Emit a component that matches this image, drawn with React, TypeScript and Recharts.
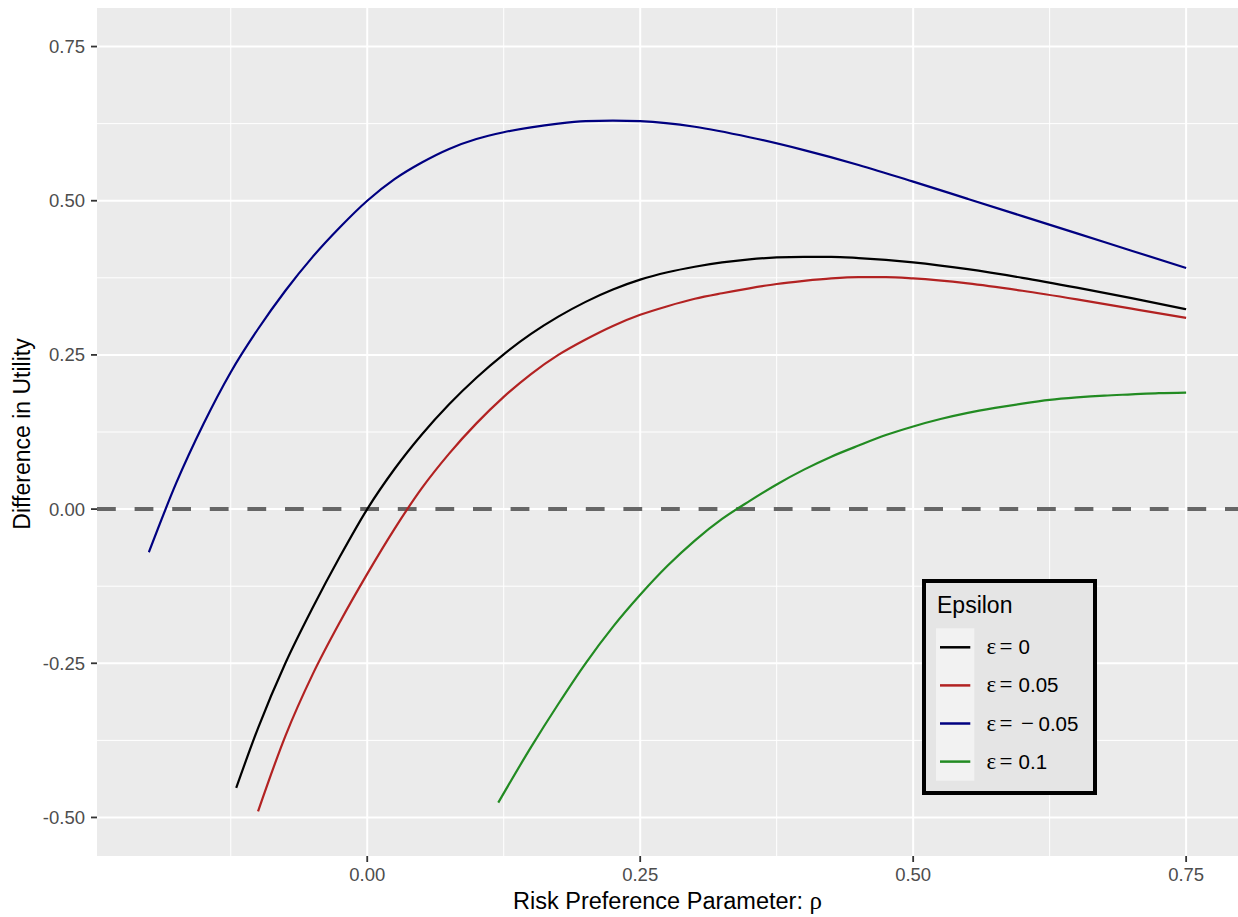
import React from "react";
import {
  LineChart,
  Line,
  XAxis,
  YAxis,
  CartesianGrid,
  ReferenceLine,
} from "recharts";

// tick positions
const rhoTicks = [0, 0.25, 0.5, 0.75];
const rhoMinor = [-0.125, 0.125, 0.375, 0.625];
const utilTicks = [-0.5, -0.25, 0, 0.25, 0.5, 0.75];
const utilMinor = [-0.375, -0.125, 0.125, 0.375, 0.625];

// epsilon = 0 (black)
const rho0 = [-0.12, -0.1, -0.075, -0.05, -0.025, 0, 0.025, 0.05, 0.075, 0.1, 0.125, 0.15, 0.175, 0.2, 0.225, 0.25, 0.275, 0.3, 0.325, 0.35, 0.375, 0.4, 0.425, 0.45, 0.5, 0.55, 0.6, 0.65, 0.7, 0.75];
const util0 = [-0.452, -0.355, -0.25, -0.16, -0.077, 0, 0.065, 0.121, 0.17, 0.213, 0.251, 0.284, 0.312, 0.336, 0.356, 0.372, 0.384, 0.393, 0.4, 0.405, 0.408, 0.409, 0.409, 0.407, 0.4, 0.389, 0.375, 0.359, 0.342, 0.324];

// epsilon = 0.05 (red)
const rho05 = [-0.1, -0.075, -0.05, -0.025, 0, 0.025, 0.05, 0.075, 0.1, 0.125, 0.15, 0.175, 0.2, 0.225, 0.25, 0.275, 0.3, 0.325, 0.35, 0.375, 0.4, 0.425, 0.45, 0.475, 0.5, 0.55, 0.6, 0.65, 0.7, 0.75];
const util05 = [-0.49, -0.368, -0.268, -0.183, -0.105, -0.032, 0.034, 0.09, 0.139, 0.182, 0.219, 0.25, 0.275, 0.297, 0.315, 0.329, 0.341, 0.35, 0.358, 0.365, 0.37, 0.374, 0.376, 0.376, 0.374, 0.366, 0.354, 0.34, 0.325, 0.31];

// epsilon = -0.05 (blue)
const rhoM05 = [-0.2, -0.175, -0.15, -0.125, -0.1, -0.075, -0.05, -0.025, 0, 0.025, 0.05, 0.075, 0.1, 0.125, 0.15, 0.175, 0.2, 0.225, 0.25, 0.3, 0.35, 0.4, 0.45, 0.5, 0.55, 0.6, 0.65, 0.7, 0.75];
const utilM05 = [-0.07, 0.042, 0.138, 0.222, 0.292, 0.354, 0.409, 0.457, 0.5, 0.535, 0.562, 0.584, 0.6, 0.611, 0.619, 0.625, 0.629, 0.63, 0.629, 0.62, 0.603, 0.582, 0.558, 0.531, 0.503, 0.475, 0.447, 0.419, 0.391];

// epsilon = 0.1 (green)
const rho1 = [0.12, 0.15, 0.175, 0.2, 0.225, 0.25, 0.275, 0.3, 0.325, 0.35, 0.375, 0.4, 0.425, 0.45, 0.475, 0.5, 0.525, 0.55, 0.575, 0.6, 0.625, 0.65, 0.675, 0.7, 0.725, 0.75];
const util1 = [-0.476, -0.386, -0.316, -0.25, -0.191, -0.139, -0.092, -0.051, -0.016, 0.013, 0.04, 0.064, 0.085, 0.103, 0.12, 0.134, 0.146, 0.156, 0.164, 0.171, 0.177, 0.181, 0.184, 0.186, 0.188, 0.189];

const zip = (xs: number[], ys: number[]) => xs.map((rho, i) => ({ rho, u: ys[i] }));

const series = [
  { key: "0", label: "0", color: "#000000", data: zip(rho0, util0) },
  { key: "0.05", label: "0.05", color: "#B22222", data: zip(rho05, util05) },
  { key: "-0.05", label: "-0.05", color: "#000080", data: zip(rhoM05, utilM05) },
  { key: "0.1", label: "0.1", color: "#228B22", data: zip(rho1, util1) },
];

const SANS = "'Liberation Sans', Arial, Helvetica, sans-serif";
const SERIF = "'Liberation Serif', 'DejaVu Serif', serif";

// legend box drawn on top of the plot panel (ggplot style, inside the panel)
function EpsLegend() {
  return (
    <svg
      width={175}
      height={216}
      style={{ position: "absolute", left: 922, top: 579, display: "block" }}
    >
      <rect x={2} y={2} width={171} height={212} fill="#E5E5E5" stroke="#000" strokeWidth={4} />
      <text x={15} y={34} fontSize={23} fontFamily={SANS} fill="#000">
        Epsilon
      </text>
      <rect x={14} y={49.3} width={38.3} height={152.4} fill="#F2F2F2" />
      {series.map((s, i) => {
        const cy = 68.3 + i * 38.1;
        const neg = s.label.startsWith("-");
        return (
          <g key={s.key}>
            <line x1={18} x2={48.3} y1={cy} y2={cy} stroke={s.color} strokeWidth={2.5} />
            <text y={cy + 7} fontSize={20.5} fill="#000">
              <tspan x={64.6} fontFamily={SERIF} fontSize={23}>ε</tspan>
              <tspan x={77.5} fontFamily={SERIF} fontSize={23}>=</tspan>
              {neg ? (
                <>
                  <tspan x={99} fontFamily={SERIF} fontSize={23}>−</tspan>
                  <tspan x={116.5} fontFamily={SANS}>{s.label.slice(1)}</tspan>
                </>
              ) : (
                <tspan x={96.6} fontFamily={SANS}>{s.label}</tspan>
              )}
            </text>
          </g>
        );
      })}
    </svg>
  );
}

export default function App() {
  return (
    <div style={{ position: "absolute", left: 0, top: 0, width: 1238, height: 917, background: "#fff" }}>
      <LineChart width={1238} height={917} margin={{ top: 8, right: 0, bottom: 0, left: 0 }}>
        <CartesianGrid
          fill="#EBEBEB"
          stroke="#FFFFFF"
          strokeWidth={1}
          verticalValues={rhoMinor}
          horizontalValues={utilMinor}
        />
        <CartesianGrid
          stroke="#FFFFFF"
          strokeWidth={2}
          verticalValues={rhoTicks}
          horizontalValues={utilTicks}
        />
        <XAxis
          type="number"
          dataKey="rho"
          domain={[-0.2475, 0.7975]}
          allowDataOverflow
          ticks={rhoTicks}
          tickFormatter={(v: number) => v.toFixed(2)}
          height={61}
          axisLine={false}
          tickLine={{ stroke: "#333333", strokeWidth: 1.8 }}
          tickSize={6}
          tickMargin={6}
          tick={{ fill: "#4D4D4D", fontSize: 18.5, fontFamily: SANS }}
          label={{
            content: () => (
              <text x={667.5} y={909} textAnchor="middle" fontSize={23.5} fill="#000">
                <tspan fontFamily={SANS}>Risk Preference Parameter: </tspan>
                <tspan fontFamily={SERIF} fontSize={25}>ρ</tspan>
              </text>
            ),
          }}
        />
        <YAxis
          type="number"
          domain={[-0.5625, 0.8125]}
          allowDataOverflow
          ticks={utilTicks}
          tickFormatter={(v: number) => v.toFixed(2)}
          width={97}
          axisLine={false}
          tickLine={{ stroke: "#333333", strokeWidth: 1.8 }}
          tickSize={6}
          tickMargin={6}
          tick={{ fill: "#4D4D4D", fontSize: 18.5, fontFamily: SANS }}
          label={{
            content: () => (
              <text
                x={30}
                y={434}
                transform="rotate(-90, 30, 434)"
                textAnchor="middle"
                fontSize={23}
                fontFamily={SANS}
                fill="#000"
              >
                Difference in Utility
              </text>
            ),
          }}
        />
        <ReferenceLine y={0} stroke="#666666" strokeWidth={4} strokeDasharray="18.8 18.8" />
        {series.map((s) => (
          <Line
            key={s.key}
            data={s.data}
            dataKey="u"
            name={s.label}
            type="monotone"
            stroke={s.color}
            strokeWidth={2.2}
            dot={false}
            activeDot={false}
            isAnimationActive={false}
          />
        ))}
      </LineChart>
      <EpsLegend />
    </div>
  );
}
